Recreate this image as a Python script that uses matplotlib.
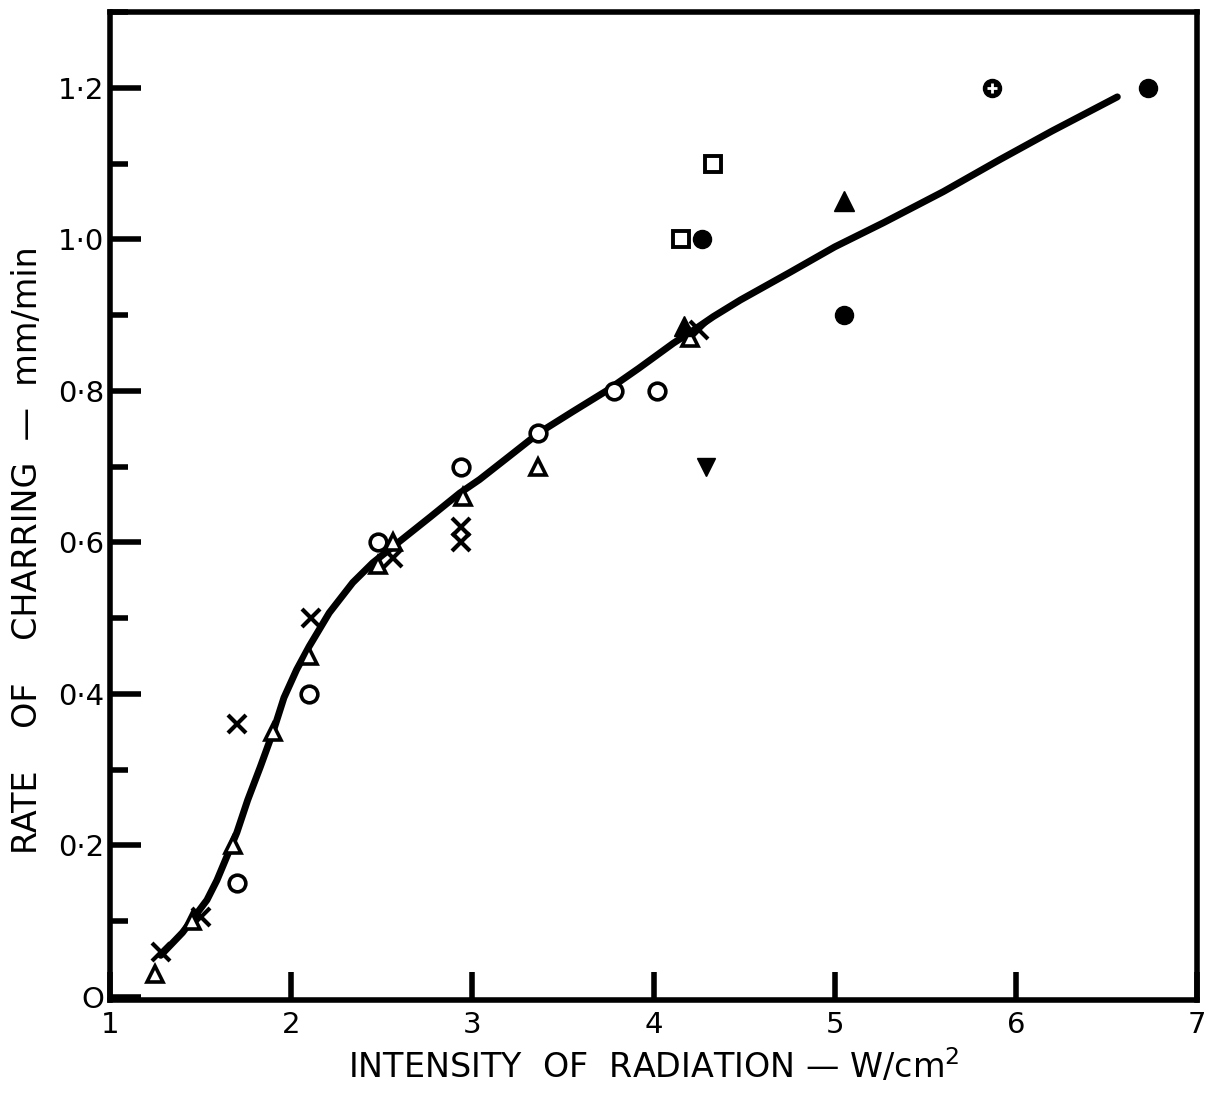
import matplotlib
matplotlib.use("Agg")
import matplotlib.pyplot as plt
from matplotlib.ticker import MultipleLocator

# smooth fitted curve
curve_x = [1.28, 1.40, 1.535, 1.59, 1.66, 1.70, 1.76, 1.83, 1.90, 1.96, 2.03, 2.10,
           2.21, 2.34, 2.45, 2.56, 2.77, 2.93, 3.04, 3.20, 3.37, 3.55, 3.74, 3.92,
           4.11, 4.22, 4.33, 4.48, 4.75, 5.00, 5.27, 5.60, 5.91, 6.20, 6.56]
curve_y = [0.055, 0.085, 0.128, 0.154, 0.194, 0.217, 0.26, 0.304, 0.35, 0.395, 0.432, 0.463,
           0.507, 0.547, 0.573, 0.594, 0.634, 0.665, 0.683, 0.713, 0.745, 0.772, 0.80, 0.83,
           0.863, 0.88, 0.898, 0.92, 0.956, 0.99, 1.022, 1.063, 1.105, 1.143, 1.188]

# experimental points, one list per symbol
cross_x = [1.28, 1.50, 1.70, 2.11, 2.56, 2.94, 2.94, 4.25]
cross_y = [0.06, 0.105, 0.36, 0.50, 0.58, 0.62, 0.60, 0.88]

tri_open_x = [1.25, 1.45, 1.68, 1.90, 2.10, 2.48, 2.56, 2.95, 3.36, 4.20]
tri_open_y = [0.03, 0.10, 0.20, 0.35, 0.45, 0.57, 0.60, 0.66, 0.70, 0.87]

circ_open_x = [1.70, 2.10, 2.48, 2.94, 3.36, 3.78, 4.02]
circ_open_y = [0.15, 0.40, 0.60, 0.70, 0.745, 0.80, 0.80]

sq_open_x = [4.15, 4.33]
sq_open_y = [1.00, 1.10]

circ_fill_x = [4.27, 5.05, 6.73]
circ_fill_y = [1.00, 0.90, 1.20]

tri_fill_x = [4.17, 5.05]
tri_fill_y = [0.885, 1.05]

tri_down_x = [4.29]
tri_down_y = [0.70]

circ_star_x = [5.87]
circ_star_y = [1.20]

xticks = [1, 2, 3, 4, 5, 6, 7]
yticks = [0, 0.2, 0.4, 0.6, 0.8, 1.0, 1.2]
yticklabels = ["O", "0·2", "0·4", "0·6", "0·8", "1·0", "1·2"]

plt.rcParams["font.family"] = ["DejaVu Sans"]

fig = plt.figure(figsize=(12.17, 10.94), dpi=100)
ax = fig.add_axes([0.0904, 0.0859, 0.8932, 0.9031])

ax.plot(curve_x, curve_y, color="black", lw=5, solid_capstyle="round",
        solid_joinstyle="round", zorder=2)

ax.plot(cross_x, cross_y, "x", color="black", ms=13, mew=3, zorder=3)
ax.plot(tri_open_x, tri_open_y, "^", color="black", mfc="white", ms=12, mew=2.6, zorder=3)
ax.plot(circ_open_x, circ_open_y, "o", color="black", mfc="white", ms=12, mew=2.6, zorder=3)
ax.plot(sq_open_x, sq_open_y, "s", color="black", mfc="white", ms=12, mew=2.8, zorder=3)
ax.plot(circ_fill_x, circ_fill_y, "o", color="black", ms=13, zorder=3)
ax.plot(tri_fill_x, tri_fill_y, "^", color="black", ms=14, zorder=3)
ax.plot(tri_down_x, tri_down_y, "v", color="black", ms=13, zorder=3)
ax.plot(circ_star_x, circ_star_y, "o", color="black", ms=13, zorder=3)
ax.plot(circ_star_x, circ_star_y, "+", color="white", ms=7, mew=2, zorder=4)

ax.set_xlim(1, 7)
ax.set_ylim(-0.004, 1.3)
ax.set_xticks(xticks)
ax.set_yticks(yticks)
ax.set_yticklabels(yticklabels)
ax.yaxis.set_minor_locator(MultipleLocator(0.1))

for s in ax.spines.values():
    s.set_linewidth(4)

ax.tick_params(axis="both", which="major", direction="in", width=4, labelsize=21)
ax.tick_params(axis="y", which="major", length=22, pad=4)
ax.tick_params(axis="y", which="minor", direction="in", length=13, width=4)
ax.tick_params(axis="x", which="major", length=20, pad=8)

ax.set_xlabel("INTENSITY  OF  RADIATION — W/cm$^2$", fontsize=24, labelpad=6)
ax.set_ylabel("RATE    OF    CHARRING  —  mm/min", fontsize=24)
ax.yaxis.set_label_coords(-0.061, 0.455)

fig.savefig("out.png", dpi=100)
